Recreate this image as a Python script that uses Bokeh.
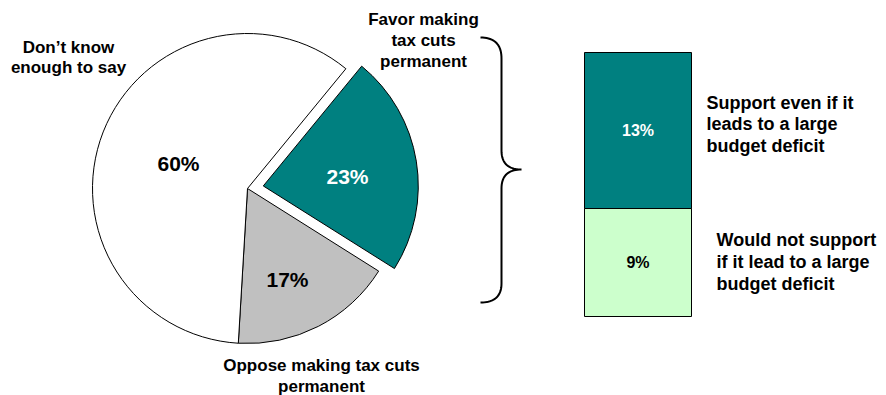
import math
import numpy as np
from bokeh.plotting import figure
from bokeh.models import Range1d
from bokeh.core.properties import value
from bokeh.embed import file_html
from bokeh.resources import INLINE

# ---------------- data ----------------
pie_labels = ["Favor making tax cuts permanent",
              "Oppose making tax cuts permanent",
              "Don’t know enough to say"]
pie_values = [23, 17, 60]
pie_colors = ["#008080", "#C0C0C0", "#FFFFFF"]
pie_text_colors = ["white", "black", "black"]

bar_labels = ["Would not support if it lead to a large budget deficit",
              "Support even if it leads to a large budget deficit"]
bar_values = [9, 13]
bar_colors = ["#CCFFCC", "#008080"]
bar_text_colors = ["black", "white"]

# ---------------- layout ----------------
W, H = 886, 395
FONT = value("Liberation Sans")


def Y(py):
    return H - py


p = figure(width=W, height=H, x_range=Range1d(0, W), y_range=Range1d(0, H),
           output_backend="svg", toolbar_location=None, min_border=0,
           x_axis_location=None, y_axis_location=None)
p.grid.visible = False
p.outline_line_color = None
p.background_fill_color = "white"
p.border_fill_color = "white"

# ---------- pie ----------
cx, cy, R = 247, Y(188), 155
a0 = 50.6  # degrees, start of first slice, proceeding clockwise
explode = [16, 0, 0]
pct_pos = [(347, 176), (287, 279), (178, 163)]
total = sum(pie_values)
for i, v in enumerate(pie_values):
    span = v / total * 360.0
    start, end = a0 - span, a0
    mid = math.radians((start + end) / 2)
    ox = cx + explode[i] * math.cos(mid)
    oy = cy + explode[i] * math.sin(mid)
    p.wedge(x=[ox], y=[oy], radius=R, start_angle=[math.radians(start)],
            end_angle=[math.radians(end)], fill_color=pie_colors[i],
            line_color="black", line_width=1)
    tx, ty = pct_pos[i]
    p.text(x=[tx], y=[Y(ty)], text=[f"{v}%"], text_color=pie_text_colors[i],
           text_font=FONT, text_font_style="bold", text_font_size="21px",
           text_align="center", text_baseline="middle")
    a0 -= span

# pie category labels (split into lines)
pie_label_lines = [
    (["Favor making", "tax cuts", "permanent"], 423, [19, 40, 61]),
    (["Oppose making tax cuts", "permanent"], 321, [365, 386]),
    (["Don’t know", "enough to say"], 68, [47, 67]),
]
for lines, lx, lys in pie_label_lines:
    p.text(x=[lx] * len(lines), y=[Y(v) for v in lys], text=lines,
           text_color="black", text_font=FONT, text_font_style="bold",
           text_font_size="17px", text_align="center", text_baseline="middle")

# ---------- brace ----------
def qbez(p0, c, p1, n=20):
    t = np.linspace(0, 1, n)
    xs = (1 - t) ** 2 * p0[0] + 2 * (1 - t) * t * c[0] + t ** 2 * p1[0]
    ys = (1 - t) ** 2 * p0[1] + 2 * (1 - t) * t * c[1] + t ** 2 * p1[1]
    return list(xs), list(ys)

bx, by = [], []
for seg in [((480, 37), (501, 37), (501, 58)),
            ((501, 58), (501, 100), (501, 150)),
            ((501, 150), (501, 169), (521, 169)),
            ((521, 169), (501, 169), (501, 188)),
            ((501, 188), (501, 240), (501, 283)),
            ((501, 283), (501, 302), (480, 302))]:
    xs, ys = qbez(*seg)
    bx += xs
    by += [Y(v) for v in ys]
p.line(bx, by, line_color="black", line_width=2)

# ---------- stacked bar ----------
bar_left, bar_right, bar_base, px_per_pct = 584, 691, Y(316), 12.0
bottom = bar_base
for i, v in enumerate(bar_values):
    top = bottom + v * px_per_pct
    p.quad(left=[bar_left], right=[bar_right], bottom=[bottom], top=[top],
           fill_color=bar_colors[i], line_color="black", line_width=1)
    p.text(x=[(bar_left + bar_right) / 2], y=[(bottom + top) / 2], text=[f"{v}%"],
           text_color=bar_text_colors[i], text_font=FONT, text_font_style="bold",
           text_font_size="16px", text_align="center", text_baseline="middle")
    bottom = top

bar_label_lines = [
    (["Would not support", "if it lead to a large", "budget deficit"], 716, [239, 261, 283]),
    (["Support even if it", "leads to a large", "budget deficit"], 706, [102, 123, 145]),
]
for lines, lx, lys in bar_label_lines:
    p.text(x=[lx] * len(lines), y=[Y(v) for v in lys], text=lines,
           text_color="black", text_font=FONT, text_font_style="bold",
           text_font_size="18px", text_align="left", text_baseline="middle")

open("out.html", "w").write(file_html(p, INLINE))
